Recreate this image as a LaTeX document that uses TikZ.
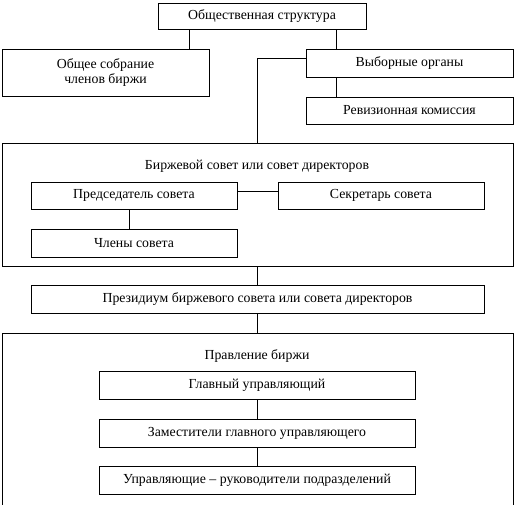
\documentclass[tikz,border=0pt]{standalone}
\usepackage{fontspec}
\setmainfont{Liberation Serif}
\usetikzlibrary{shadows}
\begin{document}
\begin{tikzpicture}[x=1pt,y=-1pt,
  every node/.style={inner sep=0pt, outer sep=0pt, font=\fontsize{13.8}{15}\selectfont},
  box/.style={draw, line width=0.8pt, fill=white, align=center,
    drop shadow={shadow xshift=1.2pt, shadow yshift=-1.2pt, fill=gray!60, opacity=1}},
  frame/.style={draw, line width=0.8pt},
  conn/.style={line width=0.8pt}]
\useasboundingbox (0,0) rectangle (514,504);
\clip (0,0) rectangle (514,504);
\fill[white] (0,0) rectangle (514,504);
% top part
\node[box, minimum width=208pt, minimum height=26pt] (top) at (262,16) {Общественная структура};
\node[box, minimum width=207pt, minimum height=47pt] (gen) at (105.5,72.5) {Общее собрание\\членов биржи};
\node[box, minimum width=207pt, minimum height=28pt] (vyb) at (409.5,63) {Выборные органы};
\node[box, minimum width=207pt, minimum height=27pt] (rev) at (409.5,110.5) {Ревизионная комиссия};
% frame 1
\node[frame, minimum width=511pt, minimum height=123pt] (fr1) at (257.5,204.5) {};
\node (t1) at (257,166) {Биржевой совет или совет директоров};
\node[box, minimum width=206pt, minimum height=27pt] (pred) at (134,195.5) {Председатель совета};
\node[box, minimum width=206pt, minimum height=27pt] (sek) at (381,195.5) {Секретарь совета};
\node[box, minimum width=206pt, minimum height=28pt] (chl) at (134,243) {Члены совета};
% presidium
\node[box, minimum width=453pt, minimum height=28pt] (prez) at (257.5,299) {Президиум биржевого совета или совета директоров};
% frame 2
\node[frame, minimum width=511pt, minimum height=187pt] (fr2) at (257.5,426.5) {};
\node (t2) at (257,356) {Правление биржи};
\node[box, minimum width=316pt, minimum height=28pt] (glav) at (257,385) {Главный управляющий};
\node[box, minimum width=316pt, minimum height=28pt] (zam) at (257,433) {Заместители главного управляющего};
\node[box, minimum width=316pt, minimum height=28pt] (upr) at (257,480) {Управляющие – руководители подразделений};
% connectors
\draw[conn] ([xshift=-73pt]top.south) -- ([xshift=-73pt]top.south |- gen.north);
\draw[conn] ([xshift=74pt]top.south) -- ([xshift=74pt]top.south |- vyb.north);
\draw[conn] ([xshift=-73.5pt]vyb.south) -- ([xshift=-73.5pt]vyb.south |- rev.north);
\draw[conn] ([yshift=5pt]vyb.west) -| (fr1.north);
\draw[conn] ([yshift=4.5pt]pred.east) -- ([yshift=4.5pt]sek.west);
\draw[conn] ([xshift=-5pt]pred.south) -- ([xshift=-5pt]pred.south |- chl.north);
\draw[conn] (fr1.south) -- (prez.north);
\draw[conn] (prez.south) -- (fr2.north);
\draw[conn] (glav.south) -- (zam.north);
\draw[conn] (zam.south) -- (upr.north);
\end{tikzpicture}
\end{document}
